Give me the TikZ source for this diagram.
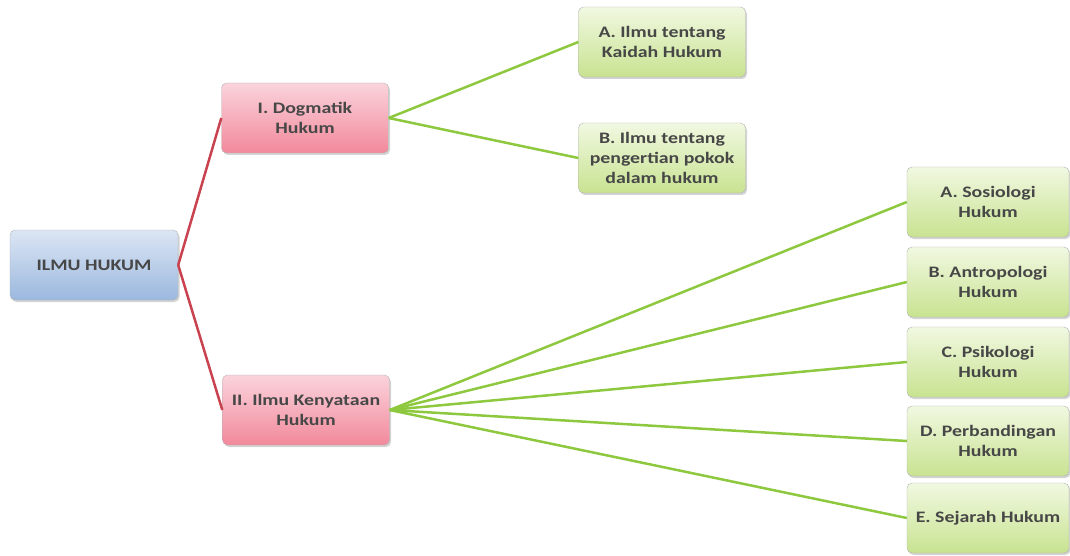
\documentclass[tikz,border=0pt]{standalone}
\usepackage{fontspec}
\setmainfont{Carlito}[FakeStretch=1.24]
\usepackage{tikz}
\usetikzlibrary{shadows}
\definecolor{bluetop}{HTML}{DCE6F4}
\definecolor{bluebot}{HTML}{9BB8DE}
\definecolor{pinktop}{HTML}{FAD3DC}
\definecolor{pinkbot}{HTML}{F2899B}
\definecolor{greentop}{HTML}{F1F8E1}
\definecolor{greenbot}{HTML}{C8E391}
\definecolor{redline}{HTML}{C8424F}
\definecolor{greenline}{HTML}{8DC83F}
\tikzstyle{box}=[rectangle, rounded corners=5pt, minimum height=70pt, align=center,
                  font=\fontsize{16}{20}\selectfont\bfseries, text=black!72, draw=black!30,
                  drop shadow={shadow xshift=1.5pt, shadow yshift=-2pt, opacity=.35}]
\tikzstyle{rootbox}=[box, minimum width=168pt, top color=bluetop, bottom color=bluebot]
\tikzstyle{mainbox}=[box, minimum width=167pt, top color=pinktop, bottom color=pinkbot]
\tikzstyle{subbox}=[box, minimum width=167pt, top color=greentop, bottom color=greenbot]
\tikzstyle{redlink}=[draw=redline, line width=2.5pt]
\tikzstyle{greenlink}=[draw=greenline, line width=2.5pt]

\begin{document}
\begin{tikzpicture}[x=1pt,y=-1pt]
      \useasboundingbox (0,0) rectangle (1070,556);

      \node[rootbox] (ilmu) at (94,265) {ILMU HUKUM};

      \node[mainbox] (dog) at (305,118) {I. Dogmatik\\Hukum};
      \node[mainbox] (ken) at (306,410) {II. Ilmu Kenyataan\\Hukum};

      \node[subbox] (da) at (662,42) {A. Ilmu tentang\\Kaidah Hukum};
      \node[subbox] (db) at (662,158) {B. Ilmu tentang\\pengertian pokok\\dalam hukum};

      \node[subbox, minimum width=162pt] (ka) at (988,202) {A. Sosiologi\\Hukum};
      \node[subbox, minimum width=162pt] (kb) at (988,282) {B. Antropologi\\Hukum};
      \node[subbox, minimum width=162pt] (kc) at (988,362) {C. Psikologi\\Hukum};
      \node[subbox, minimum width=162pt] (kd) at (988,441) {D. Perbandingan\\Hukum};
      \node[subbox, minimum width=162pt] (ke) at (988,518) {E. Sejarah Hukum};

      \draw[redlink] (ilmu.east) -- (dog.west);
      \draw[redlink] (ilmu.east) -- (ken.west);

      \draw[greenlink] (dog.east) -- (da.west);
      \draw[greenlink] (dog.east) -- (db.west);

      \foreach \k in {ka,kb,kc,kd,ke}
        \draw[greenlink] (ken.east) -- (\k.west);
    \end{tikzpicture}
\end{document}
